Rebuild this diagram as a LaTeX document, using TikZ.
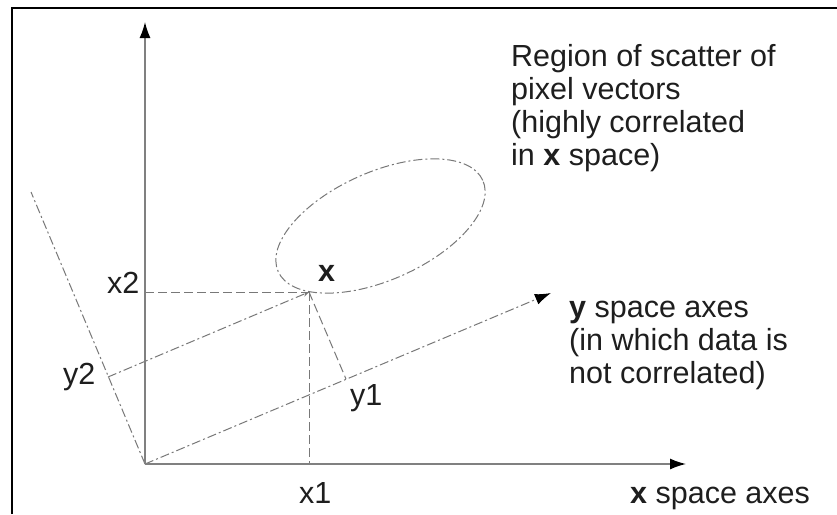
\documentclass[tikz,border=0pt]{standalone}
\usepackage{fontspec}
\setmainfont{Liberation Sans}
\usetikzlibrary{arrows.meta}
\definecolor{axisgray}{RGB}{128,128,128}
\definecolor{dashgray}{RGB}{120,120,120}
\definecolor{txt}{RGB}{30,30,30}
\tikzset{
  axisline/.style={draw=axisgray, line width=1.4pt},
  dashdot/.style={draw=dashgray, line width=1pt, dash pattern=on 9pt off 3pt on 2pt off 3pt},
  dashline/.style={draw=dashgray, line width=1pt, dash pattern=on 9pt off 4pt},
  lbl/.style={inner sep=0pt, anchor=base west, text=txt, font=\fontsize{30.5}{33}\selectfont, align=left},
  bigtip/.style={-{Latex[length=16pt,width=11pt,black]}},
}
\begin{document}
\begin{tikzpicture}[x=1pt,y=-1pt]
\useasboundingbox (0,0) rectangle (837,514);
\fill[white] (0,0) rectangle (837,514);
% frame
\draw[black, line width=2.2pt] (12,514) -- (12,8) -- (837,8);
% points
\coordinate (O) at (145,464);
\coordinate (Vtop) at (145,22);
\coordinate (Hend) at (686,464);
\coordinate (P) at (309,292);
\coordinate (Y1end) at (551,293);
\coordinate (Y2top) at (31,192);
\coordinate (F1) at (346,379);
\coordinate (F2) at (108,377);
\coordinate (X1foot) at (309,464);
\coordinate (X2foot) at (145,292);
% ellipse
\draw[dashdot] (380.5,226) ellipse [x radius=112pt, y radius=54pt, rotate=24];
% projections
\draw[dashline] (X2foot) -- (P);
\draw[dashline] (P) -- (X1foot);
\draw[dashline] (P) -- (F1);
\draw[dashdot, -{Stealth[length=6pt,width=5pt]}] (F2) -- (P);
% y axes
\draw[dashdot] (O) -- (Y2top);
\draw[dashdot, -{Latex[length=16pt,width=11pt,black]}] (O) -- (Y1end);
% x axes
\draw[axisline, bigtip] (O) -- (Vtop);
\draw[axisline, bigtip] (O) -- (Hend);
% labels
\node[lbl] (lx2) at (107,293) {x2};
\node[lbl] (ly2) at (63,384) {y2};
\node[lbl] (lx1) at (299,503) {x1};
\node[lbl] (ly1) at (350,405) {y1};
\node[lbl] (lx) at (318,281) {\textbf{x}};
\node[lbl] (region) at (511,165) {Region of scatter of\\pixel vectors\\(highly correlated\\in \textbf{x} space)};
\node[lbl] (yspace) at (569,383) {\textbf{y} space axes\\(in which data is\\not correlated)};
\node[lbl] (xspace) at (630,503) {\textbf{x} space axes};
\end{tikzpicture}
\end{document}
